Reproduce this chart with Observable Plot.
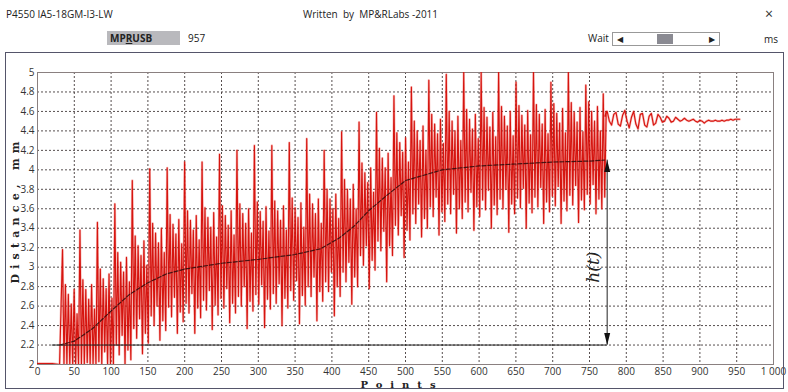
<!DOCTYPE html>
<html><head><meta charset="utf-8">
<script src="https://cdn.jsdelivr.net/npm/d3@7"></script>
<script src="https://cdn.jsdelivr.net/npm/@observablehq/plot@0.6"></script>
<style>
body{margin:0;background:#fff;}
#win{position:relative;width:788px;height:392px;overflow:hidden;background:#fff;font-family:"Open Sans",sans-serif;color:#222;}
.t{position:absolute;white-space:nowrap;font-size:10px;line-height:12px;}
#frame{position:absolute;left:5px;top:52px;width:777px;height:335px;border:1.5px solid #55556a;pointer-events:none;}
#chart{position:absolute;left:0;top:0;}
#ylab{position:absolute;left:16px;top:210px;transform:translate(-50%,-50%) rotate(-90deg);font:bold 11px "DejaVu Serif",serif;line-height:12px;letter-spacing:5.2px;white-space:nowrap;color:#222;}
#xlab{position:absolute;left:402px;top:385px;transform:translate(-50%,-50%);font:bold 10px "DejaVu Serif",serif;line-height:10px;letter-spacing:8px;white-space:nowrap;color:#222;}
#mpr{position:absolute;left:107px;top:31px;width:73px;height:14px;background:#b9b9bd;}
#scroll{position:absolute;left:612px;top:32px;width:106px;height:12px;border:1px solid #999;background:#fff;}
#thumb{position:absolute;left:44px;top:1px;width:16px;height:10px;background:#8a8a92;}
</style></head>
<body>
<div id="win">
  <div class="t" style="left:6px;top:8px;">P4550 IA5-18GM-I3-LW</div>
  <div class="t" style="left:303px;top:8px;">Written&nbsp; by&nbsp; MP&amp;RLabs -2011</div>
  <div class="t" style="left:765px;top:6px;font-size:14px;line-height:16px;color:#333;">×</div>
  <div id="mpr"></div>
  <div class="t" style="left:110px;top:32px;font-weight:bold;">MP<u>R</u>USB</div>
  <div class="t" style="left:188px;top:32px;">957</div>
  <div class="t" style="left:588px;top:32px;">Wait</div>
  <div id="scroll"><div id="thumb"></div>
    <div class="t" style="left:4px;top:0px;font-size:8px;">◀</div>
    <div class="t" style="left:96px;top:0px;font-size:8px;">▶</div>
  </div>
  <div class="t" style="left:764px;top:33px;">ms</div>
  <div id="chart"></div>
  <div id="frame"></div>
  <div id="ylab">Distance, mm</div>
  <div id="xlab">Points</div>
</div>
<script>
// ---- data ----
const xTicks = [0,50,100,150,200,250,300,350,400,450,500,550,600,650,700,750,800,850,900,950,1000];
const yTicks = [2,2.2,2.4,2.6,2.8,3,3.2,3.4,3.6,3.8,4,4.2,4.4,4.6,4.8,5];

// flat start of the record (points, mm)
const preX = [0, 10, 20, 30];
const preY = [2.01, 2.01, 2.01, 2.0];

// oscillating record: one row per ~23.7-point cycle, 12 samples each
const cycleStart = 34;
const cyclePoints = 23.7;
const samplesPerCycle = 12;
const cycles = [
  [3.18,2.00,2.82,2.00,2.72,2.00,2.62,2.00,2.77,2.00,2.52,2.00],
  [3.38,2.00,2.87,2.00,2.77,2.02,2.67,2.00,2.82,2.00,2.57,2.00],
  [3.46,2.03,2.98,2.00,2.88,2.13,2.78,2.00,2.93,2.00,2.68,2.00],
  [3.65,2.20,3.15,2.10,3.05,2.30,2.95,2.00,3.10,2.15,2.85,2.05],
  [3.89,2.37,3.32,2.27,3.22,2.47,3.12,2.11,3.27,2.32,3.02,2.22],
  [4.01,2.50,3.45,2.40,3.35,2.60,3.25,2.25,3.40,2.45,3.15,2.35],
  [4.02,2.59,3.54,2.49,3.44,2.69,3.34,2.32,3.49,2.54,3.24,2.44],
  [4.08,2.63,3.58,2.53,3.48,2.73,3.38,2.32,3.53,2.58,3.28,2.48],
  [4.08,2.66,3.61,2.56,3.51,2.76,3.41,2.36,3.56,2.61,3.31,2.51],
  [4.16,2.68,3.63,2.58,3.53,2.78,3.43,2.43,3.58,2.63,3.33,2.53],
  [4.20,2.70,3.65,2.60,3.55,2.80,3.45,2.37,3.60,2.65,3.35,2.55],
  [4.25,2.72,3.67,2.62,3.57,2.82,3.47,2.38,3.62,2.67,3.37,2.57],
  [4.25,2.73,3.68,2.63,3.58,2.83,3.48,2.40,3.63,2.68,3.38,2.58],
  [4.28,2.76,3.71,2.66,3.61,2.86,3.51,2.42,3.66,2.71,3.41,2.61],
  [4.32,2.80,3.75,2.70,3.65,2.90,3.55,2.45,3.70,2.75,3.45,2.65],
  [4.20,2.85,3.80,2.75,3.70,2.95,3.60,2.50,3.75,2.80,3.50,2.70],
  [4.39,2.95,3.90,2.85,3.80,3.05,3.70,2.62,3.85,2.90,3.60,2.80],
  [4.49,3.12,4.07,3.02,3.97,3.22,3.87,2.78,4.02,3.07,3.77,2.97],
  [4.59,3.27,4.22,3.17,4.12,3.37,4.02,2.85,4.17,3.22,3.92,3.12],
  [4.76,3.43,4.38,3.33,4.28,3.53,4.18,3.10,4.33,3.38,4.08,3.28],
  [4.85,3.55,4.50,3.45,4.40,3.65,4.30,3.31,4.45,3.50,4.20,3.40],
  [4.92,3.62,4.57,3.52,4.47,3.72,4.37,3.33,4.52,3.57,4.27,3.47],
  [4.98,3.65,4.60,3.55,4.50,3.75,4.40,3.35,4.55,3.60,4.30,3.50],
  [5.00,3.67,4.62,3.57,4.52,3.77,4.42,3.38,4.57,3.62,4.32,3.52],
  [5.00,3.69,4.64,3.59,4.54,3.79,4.44,3.40,4.59,3.64,4.34,3.54],
  [5.00,3.70,4.65,3.60,4.55,3.80,4.45,3.36,4.60,3.65,4.35,3.55],
  [4.90,3.71,4.66,3.61,4.56,3.81,4.46,3.40,4.61,3.66,4.36,3.56],
  [5.00,3.72,4.67,3.62,4.57,3.82,4.47,3.45,4.62,3.67,4.37,3.57],
  [4.90,3.73,4.68,3.63,4.58,3.83,4.48,3.45,4.63,3.68,4.38,3.58],
  [5.00,3.74,4.69,3.64,4.59,3.84,4.49,3.46,4.64,3.69,4.39,3.59],
  [4.87,3.75,4.70,3.65,4.60,3.85,4.50,3.55,4.65,3.70,4.40,3.60],
  [4.78,3.72,4.60]
];

// settled tail, one sample every 3 points from 771
const tailStart = 771, tailStep = 3;
const tailY = [4.55,4.60,4.50,4.46,4.57,4.59,4.47,4.45,4.56,4.61,4.50,4.43,4.54,4.60,4.47,4.42,
  4.57,4.58,4.46,4.44,4.55,4.58,4.46,4.48,4.57,4.54,4.49,4.50,4.55,4.53,4.49,4.50,4.54,4.52,
  4.50,4.51,4.53,4.51,4.50,4.51,4.52,4.50,4.49,4.51,4.50,4.48,4.50,4.51,4.50,4.50,4.51,4.50,
  4.50,4.51,4.50,4.51,4.51,4.52,4.51,4.52,4.52,4.52];

// black dashed mean curve
const meanX = [30,50,75,100,125,150,175,200,250,300,350,385,410,430,450,475,500,550,600,650,700,750,770];
const meanY = [2.2,2.24,2.37,2.55,2.72,2.84,2.93,2.98,3.04,3.08,3.13,3.19,3.3,3.42,3.58,3.74,3.89,4.0,4.04,4.06,4.08,4.09,4.1];

// h(t) annotation
const baseLevel = 2.2, baseStart = 20, topLevel = 4.1, arrowX = 774;
const hLabel = {x: 755, y: 3.0, text: "h(t)"};

// ---- build tables ----
const signal = [];
preX.forEach((x,i) => signal.push({x, y: preY[i]}));
const dt = cyclePoints / samplesPerCycle;
cycles.forEach((row,k) => row.forEach((y,j) => signal.push({x: cycleStart + (k*samplesPerCycle + j)*dt, y})));
tailY.forEach((y,i) => signal.push({x: tailStart + i*tailStep, y}));
const mean = meanX.map((x,i) => ({x, y: meanY[i]}));

const fmtY = d => String(+d.toFixed(1));
const fmtX = d => d === 1000 ? "1 000" : String(d);

const chart = Plot.plot({
  width: 788, height: 392,
  marginLeft: 37, marginRight: 15, marginTop: 72, marginBottom: 28,
  style: {fontFamily: "'Open Sans', sans-serif", fontSize: "10px", color: "#333", background: "transparent"},
  x: {domain: [0, 1000]},
  y: {domain: [2, 5]},
  marks: [
    Plot.gridX(xTicks.filter(d => d > 0 && d < 1000), {stroke: "#3a3030", strokeOpacity: 0.85, strokeDasharray: "2,2"}),
    Plot.gridY(yTicks.filter(d => d > 2 && d < 5), {stroke: "#3a3030", strokeOpacity: 0.85, strokeDasharray: "2,2"}),
    Plot.frame({stroke: "#8a8080"}),
    Plot.axisX(xTicks, {tickSize: 0, tickPadding: 3, tickFormat: fmtX, label: null, fill: "#333"}),
    Plot.axisY(yTicks, {tickSize: 0, tickPadding: 3, tickFormat: fmtY, label: null, fill: "#333"}),
    Plot.line(signal, {x: "x", y: "y", stroke: "#ee3a30", strokeWidth: 2.4, strokeOpacity: 0.33, clip: true}),
    Plot.line(signal, {x: "x", y: "y", stroke: "#d40c06", strokeWidth: 1.15, strokeOpacity: 0.95, clip: true}),
    Plot.line(mean, {x: "x", y: "y", stroke: "#2a0a0a", strokeWidth: 1.2, strokeDasharray: "4,2", strokeOpacity: 0.85}),
    Plot.ruleY([baseLevel], {x1: baseStart, x2: arrowX, stroke: "#222", strokeWidth: 1}),
    Plot.ruleX([arrowX], {y1: baseLevel, y2: topLevel, stroke: "#222", strokeWidth: 1}),
    Plot.vector([{x: arrowX, y: topLevel}], {x: "x", y: "y", length: 12, r: 3, rotate: 0, shape: "spike", anchor: "end", fill: "#111", stroke: "none"}),
    Plot.vector([{x: arrowX, y: baseLevel}], {x: "x", y: "y", length: 12, r: 3, rotate: 180, shape: "spike", anchor: "end", fill: "#111", stroke: "none"}),
    Plot.text([hLabel], {x: "x", y: "y", text: "text", rotate: -90, fontSize: 17, fontStyle: "italic", fontFamily: "'DejaVu Serif', serif", fill: "#222"})
  ]
});
document.getElementById("chart").appendChild(chart);
</script>
</body></html>
